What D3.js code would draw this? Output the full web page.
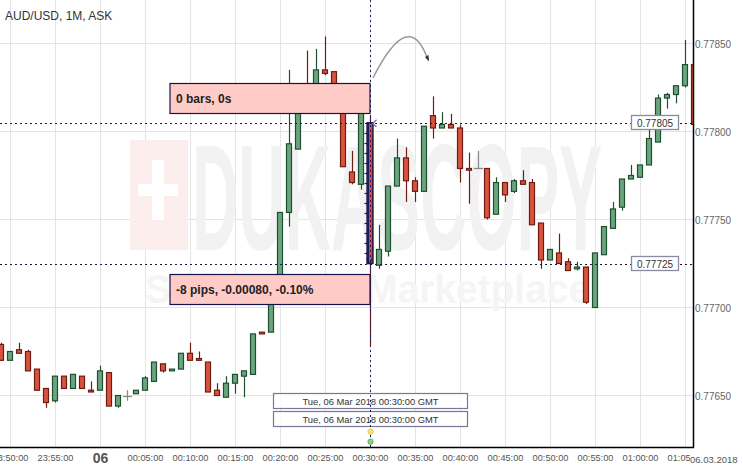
<!DOCTYPE html>
<html><head><meta charset="utf-8">
<script src="https://cdn.jsdelivr.net/npm/d3@7"></script>
<style>body{margin:0;background:#fff;overflow:hidden}svg{display:block;font-family:"Liberation Sans",Arial,sans-serif}</style>
</head><body><svg id="c" width="743" height="467"></svg>
<script>
const times = ["23:49","23:50","23:51","23:52","23:53","23:54","23:55","23:56","23:57","23:58","23:59",
"00:00","00:01","00:02","00:03","00:04","00:05","00:06","00:07","00:08","00:09",
"00:10","00:11","00:12","00:13","00:14","00:15","00:16","00:17","00:18","00:19",
"00:20","00:21","00:22","00:23","00:24","00:25","00:26","00:27","00:28","00:29",
"00:30","00:31","00:32","00:33","00:34","00:35","00:36","00:37","00:38","00:39",
"00:40","00:41","00:42","00:43","00:44","00:45","00:46","00:47","00:48","00:49",
"00:50","00:51","00:52","00:53","00:54","00:55","00:56","00:57","00:58","00:59",
"01:00","01:01","01:02","01:03","01:04","01:05","01:06"];
const openP = [0.77679,0.77670,0.77676,0.77675,0.77665,0.77654,0.77647,0.77661,0.77654,0.77661,0.77653,
0.77653,0.77663,0.77644,0.77650,0.77651,0.77653,0.77658,0.77668,0.77664,0.77665,
0.77674,0.77671,0.77669,0.77653,0.77649,0.77657,0.77661,0.77662,0.77686,0.77686,
0.77703,0.77754,0.77790,0.77818,0.77813,0.77835,0.77834,0.77815,0.77777,0.77770,
0.77805,0.77724,0.77732,0.77769,0.77785,0.77772,0.77766,0.77809,0.77802,0.77804,
0.77802,0.77779,0.77779,0.77779,0.77753,0.77771,0.77766,0.77772,0.77771,0.77748,
0.77727,0.77731,0.77726,0.77722,0.77723,0.77700,0.77730,0.77745,0.77757,0.77773,
0.77774,0.77781,0.77794,0.77819,0.77821,0.77826,0.77838];
const highP = [0.77680,0.77675,0.77680,0.77676,0.77665,0.77654,0.77661,0.77661,0.77662,0.77661,0.77658,
0.77667,0.77663,0.77650,0.77653,0.77653,0.77661,0.77669,0.77668,0.77665,0.77674,
0.77680,0.77675,0.77669,0.77657,0.77661,0.77662,0.77664,0.77685,0.77686,0.77702,
0.77754,0.77835,0.77821,0.77846,0.77847,0.77854,0.77834,0.77815,0.77789,0.77813,
0.77809,0.77747,0.77769,0.77796,0.77791,0.77774,0.77803,0.77820,0.77811,0.77810,
0.77804,0.77788,0.77789,0.77779,0.77774,0.77771,0.77773,0.77778,0.77773,0.77748,
0.77733,0.77742,0.77728,0.77726,0.77723,0.77731,0.77746,0.77760,0.77773,0.77781,
0.77781,0.77802,0.77821,0.77822,0.77826,0.77852,0.77838];
const lowP = [0.77670,0.77670,0.77674,0.77664,0.77653,0.77643,0.77646,0.77654,0.77654,0.77654,0.77652,
0.77653,0.77644,0.77643,0.77647,0.77651,0.77653,0.77658,0.77663,0.77664,0.77665,
0.77670,0.77670,0.77652,0.77650,0.77649,0.77651,0.77649,0.77662,0.77685,0.77686,
0.77703,0.77746,0.77790,0.77811,0.77813,0.77832,0.77815,0.77780,0.77770,0.77767,
0.77678,0.77722,0.77729,0.77769,0.77760,0.77760,0.77766,0.77796,0.77802,0.77802,
0.77771,0.77759,0.77779,0.77750,0.77753,0.77760,0.77765,0.77770,0.77747,0.77722,
0.77727,0.77725,0.77721,0.77721,0.77702,0.77700,0.77730,0.77745,0.77755,0.77773,
0.77774,0.77781,0.77794,0.77813,0.77816,0.77825,0.77804];
const closeP = [0.77670,0.77675,0.77674,0.77664,0.77653,0.77646,0.77661,0.77654,0.77662,0.77654,0.77652,
0.77664,0.77644,0.77650,0.77650,0.77653,0.77660,0.77669,0.77664,0.77665,0.77674,
0.77670,0.77670,0.77652,0.77650,0.77657,0.77662,0.77664,0.77685,0.77685,0.77702,
0.77754,0.77793,0.77818,0.77812,0.77835,0.77833,0.77815,0.77780,0.77771,0.77812,
0.77725,0.77733,0.77769,0.77785,0.77772,0.77766,0.77803,0.77802,0.77804,0.77802,
0.77779,0.77778,0.77779,0.77751,0.77771,0.77764,0.77772,0.77770,0.77747,0.77727,
0.77733,0.77725,0.77721,0.77723,0.77703,0.77731,0.77746,0.77756,0.77773,0.77775,
0.77781,0.77796,0.77819,0.77821,0.77826,0.77838,0.77804];
const priceTicks = [0.77650,0.77700,0.77750,0.77800,0.77850];
const markedPrices = [0.77805,0.77725];
const title = "AUD/USD, 1M, ASK";
const measureTexts = ["0 bars, 0s","-8 pips, -0.00080, -0.10%"];
const cursorTimeLabel = "Tue, 06 Mar 2018 00:30:00 GMT";
const dateLabel = "06.03.2018";
const markTime = "00:30";

const parse = d3.utcParse("%Y-%m-%d %H:%M");
const toDate = s => parse((s.startsWith("23") ? "2018-03-05 " : "2018-03-06 ") + s);
const data = times.map((t,i)=>({t:toDate(t),o:openP[i],h:highP[i],l:lowP[i],c:closeP[i]}));

const W=743,H=467, PR=693, PB=447;
const svg = d3.select("#c");
const x = d3.scaleUtc().domain([new Date(Date.UTC(2018,2,5,23,48,50)), new Date(Date.UTC(2018,2,6,1,5,50))]).range([0,PR]);
const y = d3.scaleLinear().domain([0.7762074,0.7787472]).range([PB,0]);

svg.append("defs").append("clipPath").attr("id","pc").append("rect").attr("x",0).attr("y",0).attr("width",PR).attr("height",PB);

// grid
const xt = x.ticks(d3.utcMinute.every(5));
const grid = svg.append("g").attr("stroke","#e4e4e4").attr("stroke-width",1);
grid.selectAll(".vx").data(xt).join("line").attr("x1",d=>Math.floor(x(d))+0.5).attr("x2",d=>Math.floor(x(d))+0.5).attr("y1",0).attr("y2",PB);
grid.selectAll(".hy").data(priceTicks).join("line").attr("x1",0).attr("x2",PR).attr("y1",d=>Math.floor(y(d))+0.5).attr("y2",d=>Math.floor(y(d))+0.5);

// watermark
const wm = svg.append("g");
wm.append("rect").attr("x",130).attr("y",140).attr("width",58).attr("height",110).attr("fill","#fdeeee");
wm.append("rect").attr("x",152).attr("y",160).attr("width",12).attr("height",60).attr("fill","#fff");
wm.append("rect").attr("x",138).attr("y",184).attr("width",40).attr("height",12).attr("fill","#fff");
wm.append("text").attr("x",192).attr("y",250).attr("font-size",150).attr("font-weight","bold").attr("fill","#f2f2f2")
  .attr("textLength",410).attr("lengthAdjust","spacingAndGlyphs").text("DUKASCOPY");
wm.append("text").attr("x",145).attr("y",303).attr("font-size",40).attr("font-weight","bold").attr("fill","#f5f5f5")
  .attr("textLength",445).attr("lengthAdjust","spacingAndGlyphs").text("Swiss FX & Marketplace");

// title
svg.append("text").attr("x",5).attr("y",20).attr("font-size",12).attr("fill","#333").text(title);

// candles
const cg = svg.append("g").attr("clip-path","url(#pc)");
const col = d => d.c>d.o ? {f:"#6ba57f",s:"#1e5030"} : d.c<d.o ? {f:"#d9533e",s:"#6e1d12"} : {f:"#888",s:"#888"};
const cx = d => Math.floor(x(d.t));
cg.selectAll(".w").data(data).join("line").attr("x1",d=>cx(d)+0.5).attr("x2",d=>cx(d)+0.5)
  .attr("y1",d=>y(d.h)).attr("y2",d=>y(d.l)).attr("stroke",d=>col(d).s).attr("stroke-width",1.2);
cg.selectAll(".b").data(data.filter(d=>d.o!==d.c)).join("rect")
  .attr("x",d=>cx(d)-2.5).attr("width",5)
  .attr("y",d=>y(Math.max(d.o,d.c))).attr("height",d=>Math.max(1,Math.abs(y(d.o)-y(d.c))))
  .attr("fill",d=>col(d).f).attr("stroke",d=>col(d).s).attr("stroke-width",1.2);
cg.selectAll(".dj").data(data.filter(d=>d.o===d.c)).join("line")
  .attr("x1",d=>cx(d)-4).attr("x2",d=>cx(d)+5).attr("y1",d=>Math.round(y(d.o))+0.5).attr("y2",d=>Math.round(y(d.o))+0.5)
  .attr("stroke","#888").attr("stroke-width",1.3);

// axes lines
svg.append("line").attr("x1",PR+0.5).attr("x2",PR+0.5).attr("y1",0).attr("y2",PB+1).attr("stroke","#000").attr("stroke-width",1.5);
svg.append("line").attr("x1",0).attr("x2",PR+1).attr("y1",PB+0.5).attr("y2",PB+0.5).attr("stroke","#000").attr("stroke-width",1.5);

// y labels
svg.append("g").selectAll("text").data(priceTicks).join("text").attr("x",PR+2).attr("y",d=>y(d)+4)
  .attr("font-size",10).attr("fill","#666").text(d=>d.toFixed(5));

// x labels
const fmt = d3.utcFormat("%H:%M:%S");
svg.append("g").selectAll("text").data(xt).join("text")
  .attr("x",d=>x(d)).attr("y",d=>(d.getUTCHours()===0&&d.getUTCMinutes()===0)?463:461)
  .attr("text-anchor","middle")
  .attr("font-size",d=>(d.getUTCHours()===0&&d.getUTCMinutes()===0)?14:9.2)
  .attr("font-weight",d=>(d.getUTCHours()===0&&d.getUTCMinutes()===0)?"bold":"normal")
  .attr("fill","#555")
  .text(d=>(d.getUTCHours()===0&&d.getUTCMinutes()===0)?"06":fmt(d));
svg.append("rect").attr("x",PR-3).attr("y",450).attr("width",W-PR+3).attr("height",17).attr("fill","#fff");
svg.append("text").attr("x",PR-3).attr("y",463).attr("font-size",9.5).attr("fill","#555").text(dateLabel);

// measurement overlay
const mx = Math.floor(x(toDate(markTime)))+0.5;
const yTop = y(markedPrices[0]), yBot = y(markedPrices[1]);
const ov = svg.append("g");
markedPrices.forEach(p=>{
  ov.append("line").attr("x1",0).attr("x2",PR).attr("y1",Math.round(y(p))+0.5).attr("y2",Math.round(y(p))+0.5)
    .attr("stroke","#1a1a3a").attr("stroke-width",1).attr("stroke-dasharray","2,3");
});
ov.append("line").attr("x1",mx).attr("x2",mx).attr("y1",0).attr("y2",PB).attr("stroke","#1c1c6b").attr("stroke-width",1).attr("stroke-dasharray","2,3");
ov.append("rect").attr("x",mx-3.5).attr("y",yTop).attr("width",6).attr("height",yBot-yTop).attr("fill","none").attr("stroke","#1c1c5a").attr("stroke-width",1.3);
ov.append("line").attr("x1",mx-2).attr("x2",mx-2).attr("y1",yTop).attr("y2",yBot).attr("stroke","#1c1c5a").attr("stroke-width",1.2);
ov.selectAll(".tk").data(d3.range(yTop+10,yBot-4,10)).join("line").attr("x1",mx-6).attr("x2",mx-2).attr("y1",d=>Math.round(d)+0.5).attr("y2",d=>Math.round(d)+0.5).attr("stroke","#1c1c5a").attr("stroke-width",1.2);
ov.append("path").attr("d",`M${mx+6},${yTop-3} L${mx+2},${yTop+1} L${mx+6},${yTop+4}`).attr("fill","none").attr("stroke","#6a6a9a").attr("stroke-width",1.2);
ov.append("path").attr("d",`M${mx-4},${yBot-5} L${mx-1},${yBot} L${mx+2},${yBot-5}`).attr("fill","none").attr("stroke","#1c1c5a").attr("stroke-width",1.2);

// pink boxes
const bx = mx-200.5;
[[yTop-40,measureTexts[0]],[yBot+10,measureTexts[1]]].forEach(([by,txt])=>{
  ov.append("rect").attr("x",bx).attr("y",Math.round(by)+0.5).attr("width",200).attr("height",30)
    .attr("fill","#ffcbc6").attr("stroke","#14144a").attr("stroke-width",1.2);
  ov.append("text").attr("x",bx+6).attr("y",Math.round(by)+19.5).attr("font-size",12).attr("font-weight","bold").attr("fill","#222").text(txt);
});

// price label boxes
markedPrices.forEach(p=>{
  const yy=Math.round(y(p));
  ov.append("rect").attr("x",631.5).attr("y",yy-7.5).attr("width",47).attr("height",14).attr("fill","#fff").attr("stroke","#8a8aa6").attr("stroke-width",1.3);
  ov.append("text").attr("x",655).attr("y",yy+3.5).attr("text-anchor","middle").attr("font-size",10).attr("fill","#333").text(p.toFixed(5));
});

// time label boxes
[393.5,411.5].forEach(ty=>{
  ov.append("rect").attr("x",mx-97).attr("y",ty).attr("width",194).attr("height",15).attr("fill","rgba(255,255,255,0.85)").attr("stroke","#77779a").attr("stroke-width",1.2);
  ov.append("text").attr("x",mx).attr("y",ty+11).attr("text-anchor","middle").attr("font-size",9.4).attr("fill","#333").text(cursorTimeLabel);
});
ov.append("line").attr("x1",mx).attr("x2",mx).attr("y1",390).attr("y2",PB).attr("stroke","#1c1c6b").attr("stroke-width",1).attr("stroke-dasharray","2,3");
ov.append("circle").attr("cx",mx).attr("cy",431.7).attr("r",2.6).attr("fill","#f8e66a").attr("stroke","#e6c84a");
ov.append("circle").attr("cx",mx).attr("cy",441.7).attr("r",2.6).attr("fill","#8fd08f").attr("stroke","#5aad5a");

// curved arrow
ov.append("path").attr("d","M373,78 Q409.5,5.6 428,60").attr("fill","none").attr("stroke","#999").attr("stroke-width",1.5);
ov.append("path").attr("d","M425,57 L429,61.5 L428.5,55 Z").attr("fill","#333");
</script></body></html>
